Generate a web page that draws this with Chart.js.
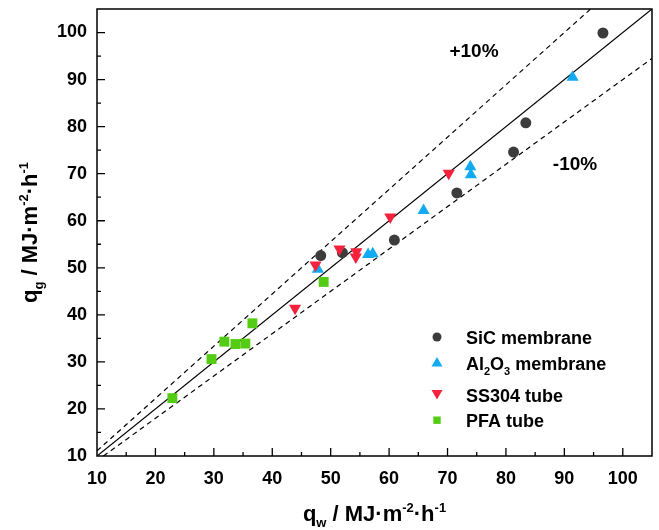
<!DOCTYPE html>
<html>
<head>
<meta charset="utf-8">
<script src="https://cdn.jsdelivr.net/npm/chart.js@4/dist/chart.umd.min.js"></script>
<style>
  html, body { margin: 0; padding: 0; background: #fff; }
  #wrap { position: relative; width: 659px; height: 530px; }
</style>
</head>
<body>
<div id="wrap"><canvas id="chart"></canvas></div>
<script>
// tick labels
const xTicks = [10, 20, 30, 40, 50, 60, 70, 80, 90, 100];
const yTicks = [10, 20, 30, 40, 50, 60, 70, 80, 90, 100];

// measured points (q_w, q_g)
const sicX = [48.3, 52.0, 60.9, 71.6, 81.3, 83.4, 96.6];
const sicY = [52.6, 53.2, 55.9, 65.9, 74.6, 80.8, 99.9];
const alX  = [47.8, 56.4, 57.2, 65.9, 73.9, 74.0, 91.4];
const alY  = [49.7, 52.8, 53.0, 62.2, 71.5, 69.8, 90.5];
const ssX  = [43.9, 47.4, 51.5, 54.4, 54.3, 60.2, 70.2];
const ssY  = [41.4, 50.6, 54.0, 53.4, 52.3, 60.8, 70.1];
const pfaX = [22.9, 29.6, 31.8, 33.7, 35.4, 36.6, 48.8];
const pfaY = [22.3, 30.6, 34.3, 33.8, 33.9, 38.2, 47.0];

// parity line and +/-10% bands
const parityX = [10, 105],   parityY = [10, 105];
const upperX  = [10, 94.5],  upperY  = [11.11, 105];
const lowerX  = [11.11, 105], lowerY = [10, 94.5];

const FONT = '"Liberation Sans", Arial, sans-serif';
const colSiC = '#3c3c3c', colAl = '#12aaf0', colSS = '#f5223d', colPFA = '#55cc14';

const pts = (xs, ys) => xs.map((x, i) => ({ x: x, y: ys[i] }));

function lineSet(xs, ys, dash) {
    return {
        data: pts(xs, ys),
        showLine: true,
        borderColor: '#000',
        borderWidth: 1.2,
        borderDash: dash,
        pointRadius: 0,
        order: 10
    };
}

function markerSet(label, xs, ys, color, style, rot, r, order) {
    return {
        label: label,
        data: pts(xs, ys),
        pointStyle: style,
        pointRotation: rot,
        pointRadius: r,
        pointBackgroundColor: color,
        pointBorderColor: color,
        pointBorderWidth: 0,
        showLine: false,
        order: order
    };
}

// draws text with sub/superscript parts
function drawRich(ctx, parts, x, y, size, align) {
    const small = Math.round(size * 0.6);
    let total = 0;
    parts.forEach(p => {
        ctx.font = 'bold ' + (p.sub || p.sup ? small : size) + 'px ' + FONT;
        p.w = ctx.measureText(p.t).width;
        total += p.w;
    });
    let cx = align === 'left' ? x : x - total / 2;
    ctx.textBaseline = 'alphabetic';
    ctx.textAlign = 'left';
    parts.forEach(p => {
        ctx.font = 'bold ' + (p.sub || p.sup ? small : size) + 'px ' + FONT;
        let dy = p.sub ? size * 0.28 : (p.sup ? -size * 0.42 : 0);
        ctx.fillText(p.t, cx, y + dy);
        cx += p.w;
    });
}

const decor = {
    id: 'decor',
    afterDraw(chart) {
        const ctx = chart.ctx;
        const a = chart.chartArea;
        const xs = chart.scales.x, ys = chart.scales.y;
        ctx.save();
        ctx.strokeStyle = '#000';
        ctx.fillStyle = '#000';

        // frame
        ctx.lineWidth = 1.5;
        ctx.strokeRect(a.left, a.top, a.right - a.left, a.bottom - a.top);

        // inward ticks
        ctx.lineWidth = 1.3;
        ctx.beginPath();
        for (let v = 15; v < 105; v += 5) {
            const len = v % 10 === 0 ? 8 : 4;
            const px = xs.getPixelForValue(v);
            ctx.moveTo(px, a.bottom);
            ctx.lineTo(px, a.bottom - len);
            const py = ys.getPixelForValue(v);
            ctx.moveTo(a.left, py);
            ctx.lineTo(a.left + len, py);
        }
        ctx.stroke();

        // axis titles
        drawRich(ctx, [
            { t: 'q' }, { t: 'w', sub: true }, { t: ' / MJ\u00b7m' }, { t: '-2', sup: true },
            { t: '\u00b7h' }, { t: '-1', sup: true }
        ], (a.left + a.right) / 2, 521, 22);

        ctx.save();
        ctx.translate(37, (a.top + a.bottom) / 2);
        ctx.rotate(-Math.PI / 2);
        drawRich(ctx, [
            { t: 'q' }, { t: 'g', sub: true }, { t: ' / MJ\u00b7m' }, { t: '-2', sup: true },
            { t: '\u00b7h' }, { t: '-1', sup: true }
        ], 0, 0, 22);
        ctx.restore();

        // band labels
        ctx.font = 'bold 19px ' + FONT;
        ctx.textAlign = 'center';
        ctx.textBaseline = 'middle';
        ctx.fillText('+10%', 474, 52);
        ctx.fillText('-10%', 575, 165);

        // legend
        const mx = 437, tx = 466;
        ctx.fillStyle = colSiC;
        ctx.beginPath();
        ctx.arc(mx, 337, 4.5, 0, Math.PI * 2);
        ctx.fill();

        ctx.fillStyle = colAl;
        ctx.beginPath();
        ctx.moveTo(mx, 357);
        ctx.lineTo(mx + 5.5, 366.5);
        ctx.lineTo(mx - 5.5, 366.5);
        ctx.closePath();
        ctx.fill();

        ctx.fillStyle = colSS;
        ctx.beginPath();
        ctx.moveTo(mx - 5.5, 390);
        ctx.lineTo(mx + 5.5, 390);
        ctx.lineTo(mx, 399.5);
        ctx.closePath();
        ctx.fill();

        ctx.fillStyle = colPFA;
        ctx.fillRect(mx - 3.7, 416.5, 7.4, 7.4);

        ctx.fillStyle = '#000';
        drawRich(ctx, [{ t: 'SiC membrane' }], tx, 343.5, 18, 'left');
        drawRich(ctx, [{ t: 'Al' }, { t: '2', sub: true }, { t: 'O' }, { t: '3', sub: true }, { t: ' membrane' }], tx, 369.5, 18, 'left');
        drawRich(ctx, [{ t: 'SS304 tube' }], tx, 401.5, 18, 'left');
        drawRich(ctx, [{ t: 'PFA tube' }], tx, 427, 18, 'left');

        ctx.restore();
    }
};

new Chart(document.getElementById('chart'), {
    type: 'scatter',
    data: {
        datasets: [
            markerSet('SiC membrane', sicX, sicY, colSiC, 'circle', 0, 5.5, 4),
            markerSet('Al2O3 membrane', alX, alY, colAl, 'triangle', 0, 7, 3),
            markerSet('SS304 tube', ssX, ssY, colSS, 'triangle', 180, 7, 2),
            markerSet('PFA tube', pfaX, pfaY, colPFA, 'rect', 0, 7, 1),
            lineSet(parityX, parityY, []),
            lineSet(upperX, upperY, [5, 4]),
            lineSet(lowerX, lowerY, [5, 4])
        ]
    },
    options: {
        responsive: true,
        maintainAspectRatio: false,
        animation: false,
        layout: { padding: { left: 0, top: 9, right: 6, bottom: 0 } },
        plugins: {
            legend: { display: false },
            tooltip: { enabled: false }
        },
        scales: {
            x: {
                type: 'linear',
                min: 10,
                max: 105,
                afterBuildTicks: s => { s.ticks = xTicks.map(v => ({ value: v })); },
                afterFit: s => { s.height = 74; s.paddingLeft = 0; s.paddingRight = 0; },
                grid: { display: false, drawTicks: false },
                border: { display: false },
                ticks: {
                    padding: 12,
                    color: '#000',
                    font: { family: FONT, size: 18, weight: 'bold' }
                }
            },
            y: {
                type: 'linear',
                min: 10,
                max: 105,
                afterBuildTicks: s => { s.ticks = yTicks.map(v => ({ value: v })); },
                afterFit: s => { s.width = 97; s.paddingTop = 0; s.paddingBottom = 0; },
                grid: { display: false, drawTicks: false },
                border: { display: false },
                ticks: {
                    padding: 10,
                    color: '#000',
                    font: { family: FONT, size: 18, weight: 'bold' }
                }
            }
        }
    },
    plugins: [decor]
});
</script>
</body>
</html>
